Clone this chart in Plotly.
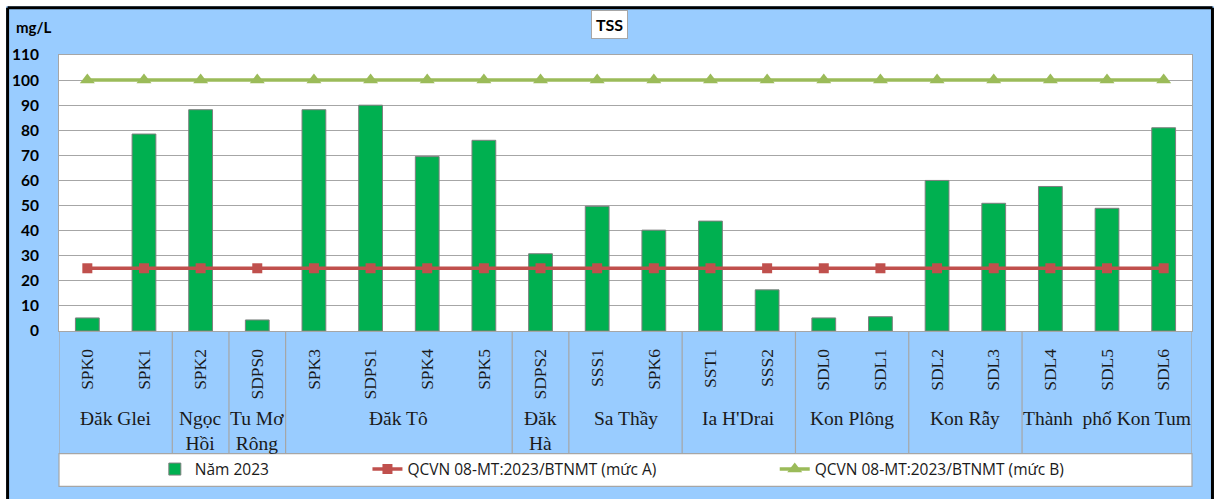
import plotly.graph_objects as go

# ---------------- data ----------------
stations = ["SPK0", "SPK1", "SPK2", "SDPS0", "SPK3", "SDPS1", "SPK4", "SPK5", "SDPS2",
            "SSS1", "SPK6", "SST1", "SSS2", "SDL0", "SDL1", "SDL2", "SDL3", "SDL4", "SDL5", "SDL6"]
tss_2023 = [5.2, 78.5, 88.2, 4.4, 88.2, 90.0, 69.5, 76.0, 30.8,
            49.7, 40.2, 43.8, 16.4, 5.2, 5.7, 60.0, 50.9, 57.6, 48.9, 81.0]
limit_a = [25] * len(stations)
limit_b = [100] * len(stations)
groups = ["Đăk Glei", "Ngọc<br>Hồi", "Tu Mơ<br>Rông", "Đăk Tô", "Đăk<br>Hà", "Sa Thầy",
          "Ia H'Drai", "Kon Plông", "Kon Rẫy", "Thành  phố Kon Tum"]
group_sizes = [2, 1, 1, 4, 1, 2, 2, 2, 2, 3]
y_ticks = list(range(0, 111, 10))

# ---------------- geometry helpers ----------------
W, H = 1214, 499
L, R, T, B = 57, 1192, 55, 332


def px2x(px):
    return (px - L) / (R - L)


def py2y(py):
    return (B - py) / (B - T)


BLUE = "#99CCFF"
GRID = "#A6A6A6"

fig = go.Figure()
fig.add_trace(go.Bar(
    x=stations, y=tss_2023, name="Năm 2023",
    marker=dict(color="#00B050", line=dict(color="#7F7F7F", width=1)),
    legend="legend",
))
fig.add_trace(go.Scatter(
    x=stations, y=limit_a, name="QCVN 08-MT:2023/BTNMT (mức A)", mode="lines+markers",
    line=dict(color="#C0504D", width=3.5),
    marker=dict(symbol="square", size=10, color="#C0504D"),
    legend="legend2",
))
fig.add_trace(go.Scatter(
    x=stations, y=limit_b, name="QCVN 08-MT:2023/BTNMT (mức B)", mode="lines+markers",
    line=dict(color="#9BBB59", width=3.5),
    marker=dict(symbol="triangle-up", size=13, color="#9BBB59"),
    legend="legend3",
))

shapes = []
# white strips outside the black frame
shapes.append(dict(type="rect", xref="paper", yref="paper", x0=px2x(-5), x1=px2x(W + 5),
                   y0=py2y(-5), y1=py2y(6), fillcolor="white", line=dict(width=0), layer="below"))
shapes.append(dict(type="rect", xref="paper", yref="paper", x0=px2x(-5), x1=px2x(4),
                   y0=py2y(-5), y1=py2y(H + 5), fillcolor="white", line=dict(width=0), layer="below"))
# black frame (top, left, right)
shapes.append(dict(type="line", xref="paper", yref="paper", x0=px2x(5.5), x1=px2x(1212.5),
                   y0=py2y(7.5), y1=py2y(7.5), line=dict(color="black", width=3)))
shapes.append(dict(type="line", xref="paper", yref="paper", x0=px2x(5.5), x1=px2x(5.5),
                   y0=py2y(7.5), y1=py2y(H + 5), line=dict(color="black", width=3)))
shapes.append(dict(type="line", xref="paper", yref="paper", x0=px2x(1212.5), x1=px2x(1212.5),
                   y0=py2y(7.5), y1=py2y(H + 5), line=dict(color="black", width=3)))
# legend box
shapes.append(dict(type="rect", xref="paper", yref="paper", x0=0, x1=1,
                   y0=py2y(488), y1=py2y(455), fillcolor="white",
                   line=dict(color=GRID, width=1.2), layer="below"))

annotations = []
# group dividers and labels
start = 0
for g, n in zip(groups, group_sizes):
    x0 = start - 0.5
    x1 = start + n - 0.5
    shapes.append(dict(type="line", xref="x", yref="paper", x0=x0, x1=x0,
                       y0=0, y1=py2y(455), line=dict(color=GRID, width=1.2)))
    annotations.append(dict(x=(x0 + x1) / 2, xref="x", y=py2y(407), yref="paper",
                            text=g, showarrow=False, yanchor="top", xanchor="center",
                            font=dict(family="Liberation Serif", size=19.5, color="#1a1a1a")))
    start += n
shapes.append(dict(type="line", xref="x", yref="paper", x0=start - 0.5, x1=start - 0.5,
                   y0=0, y1=py2y(455), line=dict(color=GRID, width=1.2)))

annotations.append(dict(x=px2x(608.5), xref="paper", y=py2y(24), yref="paper", text="TSS",
                        showarrow=False, xanchor="center", yanchor="middle",
                        font=dict(family="Lato", size=16, color="black", weight="bold"),
                        bgcolor="white", bordercolor=GRID, borderwidth=1, borderpad=4))
annotations.append(dict(x=px2x(12), xref="paper", y=py2y(27), yref="paper", text="mg/L",
                        showarrow=False, xanchor="left", yanchor="middle",
                        font=dict(family="Lato", size=15, color="black", weight="bold")))

leg_common = dict(orientation="h", yanchor="middle", xanchor="left", y=py2y(471),
                  bgcolor="rgba(0,0,0,0)", borderwidth=0,
                  font=dict(family="Open Sans", size=15.5, color="#1a1a1a"))
fig.update_layout(
    width=W, height=H,
    margin=dict(l=L, r=W - R, t=T, b=H - B, pad=0),
    paper_bgcolor=BLUE, plot_bgcolor="white",
    bargap=0.58,
    showlegend=True,
    legend=dict(x=px2x(153), **leg_common),
    legend2=dict(x=px2x(366), **leg_common),
    legend3=dict(x=px2x(774), **leg_common),
    shapes=shapes, annotations=annotations,
    xaxis=dict(type="category", tickangle=-90, showgrid=False, ticks="",
               ticklabelstandoff=10,
               tickfont=dict(family="Liberation Serif", size=17.5, color="#1a1a1a"),
               showline=True, linecolor=GRID, mirror=True, range=[-0.5, len(stations) - 0.5]),
    yaxis=dict(range=[0, 110], tickvals=y_ticks, showgrid=True, gridcolor=GRID, gridwidth=1,
               ticks="", ticklabelstandoff=16, zeroline=False,
               tickfont=dict(family="Lato", size=15.5, color="black", weight="bold"),
               showline=True, linecolor=GRID, mirror=True),
)

fig.write_html("out.html", config={"displayModeBar": False},
               post_script="document.body.style.margin='0';document.body.style.overflow='hidden';")
